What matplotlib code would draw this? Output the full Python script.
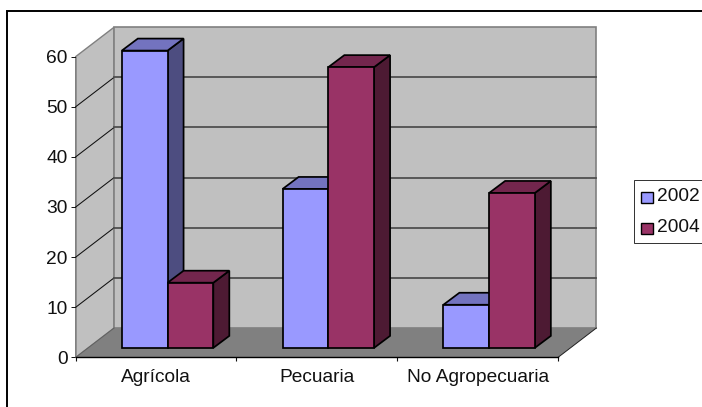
import matplotlib
matplotlib.use("Agg")
import matplotlib.pyplot as plt
from matplotlib.patches import Rectangle

categories = ["Agrícola", "Pecuaria", "No Agropecuaria"]
years = ["2002", "2004"]
values_2002 = [59.3, 31.7, 8.6]
values_2004 = [13.0, 56.0, 30.9]

W, H = 702, 407
plt.rcParams["font.family"] = ["Liberation Sans", "DejaVu Sans"]
FONT = 13.8

fig = plt.figure(figsize=(W / 100, H / 100), dpi=100, facecolor="white")


def fx(px):
    return px / W


def fy(py):
    return 1 - py / H


# Outer chart frame, whose right and bottom sides run past the canvas
fig.add_artist(Rectangle((fx(7), fy(H + 20)), fx(W + 20), fy(11) - fy(H + 20),
                         transform=fig.transFigure, fill=False,
                         edgecolor="black", linewidth=1.4))

# The axes cover the front plane of the 3D box
left, right, base, top = 75.7, 558.0, 357.4, 56.6
ax = fig.add_axes([fx(left), fy(base), fx(right - left), fy(top) - fy(base)])
ax.set_xlim(0, 3)
ax.set_ylim(0, 60)
ax.patch.set_visible(False)

px_per_cat = (right - left) / 3
px_per_unit = (base - top) / 60
box_dx = 38.4 / px_per_cat
box_dy = 29.4 / px_per_unit

WALL = "#C0C0C0"
FLOOR = "#808080"
OUTLINE = "#808080"

# Side wall, back wall and floor
ax.fill([0, box_dx, box_dx, 0], [0, box_dy, 60 + box_dy, 60], facecolor=WALL,
        edgecolor=OUTLINE, linewidth=1.0, clip_on=False, zorder=1)
ax.fill([box_dx, 3 + box_dx, 3 + box_dx, box_dx],
        [box_dy, box_dy, 60 + box_dy, 60 + box_dy], facecolor=WALL,
        edgecolor=OUTLINE, linewidth=1.2, clip_on=False, zorder=1)
ax.fill([0, 3, 3 + box_dx, box_dx], [0, 0, box_dy, box_dy], facecolor=FLOOR,
        edgecolor="none", clip_on=False, zorder=2)
ax.plot([3, 3 + box_dx], [0, box_dy], color="#202020", lw=0.7,
        clip_on=False, zorder=3)
ax.plot([0, box_dx], [0, box_dy], color="#606060", lw=0.7,
        clip_on=False, zorder=3)

# Gridlines fold from the side wall onto the back wall
for level in range(10, 60, 10):
    ax.plot([0, box_dx], [level, level + box_dy], color="#101010", lw=0.75,
            clip_on=False, zorder=3)
    ax.plot([box_dx, 3 + box_dx], [level + box_dy] * 2, color="#505050",
            lw=1.3, clip_on=False, zorder=3)

# Bars, painted back to front so nearer faces hide farther ones
bar_width = 0.2845
bar_offset = 0.287
lift = 1.9
depth_x = 16.0 / px_per_cat
depth_y = 12.0 / px_per_unit
series = [
    (values_2002, "#9999FF", "#7373BF", "#4D4D80"),
    (values_2004, "#993366", "#73264D", "#4D1A33"),
]

order = 10
for group in range(len(categories)):
    for s, (vals, front, roof, side) in enumerate(series):
        x0 = group + bar_offset + s * bar_width
        x1 = x0 + bar_width
        y0 = lift
        y1 = lift + vals[group]
        style = dict(edgecolor="black", linewidth=1.25, clip_on=False,
                     joinstyle="miter")
        ax.fill([x1, x1 + depth_x, x1 + depth_x, x1],
                [y0, y0 + depth_y, y1 + depth_y, y1], facecolor=side,
                zorder=order, **style)
        ax.fill([x0, x0 + depth_x, x1 + depth_x, x1],
                [y1, y1 + depth_y, y1 + depth_y, y1], facecolor=roof,
                zorder=order + 1, **style)
        ax.bar(x0, vals[group], bar_width, bottom=y0, align="edge",
               facecolor=front, zorder=order + 2, **style)
        order += 3

# Axis styling
for name in ("top", "right"):
    ax.spines[name].set_visible(False)
ax.spines["left"].set_color("#909090")
ax.spines["left"].set_linewidth(0.7)
ax.spines["bottom"].set_color("black")
ax.spines["bottom"].set_linewidth(1.0)
ax.spines["bottom"].set_zorder(5)

ax.set_yticks(range(0, 61, 10))
ax.tick_params(axis="y", length=3.6, width=0.7, pad=2.2, labelsize=FONT,
               colors="#111111")
ax.set_xticks(range(4))
ax.set_xticklabels([])
ax.tick_params(axis="x", which="major", length=3.2, width=0.8, color="#111111")
ax.set_xticks([i + 0.5 for i in range(3)], minor=True)
ax.set_xticklabels(categories, minor=True)
ax.tick_params(axis="x", which="minor", length=0, pad=8.5, labelsize=FONT,
               labelcolor="#111111")

# Legend box, open past the canvas edge
fig.add_artist(Rectangle((fx(633.7), fy(243.3)), fx(90), fy(180.3) - fy(243.3),
                         transform=fig.transFigure, facecolor="white",
                         edgecolor="#303030", linewidth=0.7))
for label, (_, front, _, _), y_top in zip(years, series, (191.7, 223.0)):
    fig.add_artist(Rectangle((fx(641), fy(y_top + 11)), fx(11.5), fy(y_top) - fy(y_top + 11),
                             transform=fig.transFigure, facecolor=front,
                             edgecolor="black", linewidth=1.0))
    fig.text(fx(657), fy(y_top + 5), label, fontsize=FONT, color="#111111",
             ha="left", va="center")

fig.savefig("out.png", dpi=100)
